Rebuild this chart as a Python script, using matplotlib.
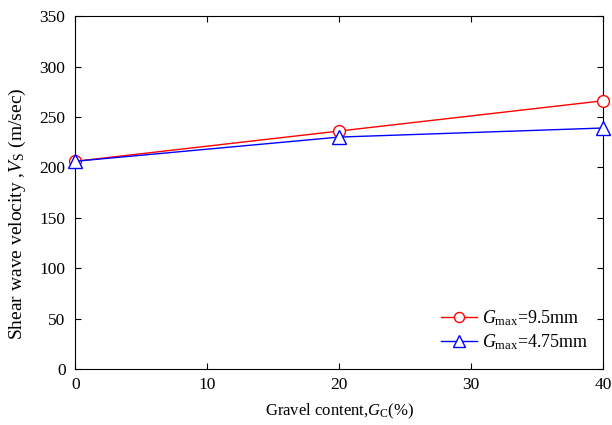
import matplotlib
matplotlib.use('Agg')
import matplotlib.pyplot as plt

# gravel content (%) and shear wave velocity (m/sec)
gravel = [0, 20, 40]
vs_95 = [206, 236, 266]
vs_475 = [206, 230, 239]

plt.rcParams['font.family'] = ['Liberation Serif', 'DejaVu Serif']
plt.rcParams['mathtext.fontset'] = 'custom'
plt.rcParams['mathtext.it'] = 'Liberation Serif:italic'
plt.rcParams['mathtext.rm'] = 'Liberation Serif'
plt.rcParams['font.size'] = 12

fig, ax = plt.subplots(figsize=(6.12, 4.25), dpi=100)
fig.subplots_adjust(left=0.123, right=0.985, top=0.962, bottom=0.132)

ax.plot(gravel, vs_95, color='red', lw=1, marker='o', ms=8.5, mfc='white',
        mec='red', label=r'$G_{\rm max}$=9.5mm', clip_on=False, zorder=3)
ax.plot(gravel, vs_475, color='blue', lw=1, marker='^', ms=9.5, mfc='white',
        mec='blue', label=r'$G_{\rm max}$=4.75mm', clip_on=False, zorder=3)

ax.set_xlim(0, 40)
ax.set_ylim(0, 350)
ax.set_xticks([0, 10, 20, 30, 40])
ax.set_yticks(range(0, 351, 50))
ax.tick_params(direction='in', top=True, right=True, length=4, labelsize=12.5)
ax.tick_params(axis='y', pad=7)
ax.tick_params(axis='x', pad=6)

ax.set_xlabel(r'Gravel content,$G_{\rm C}$(%)', fontsize=12, labelpad=6)
ax.set_ylabel(r'Shear wave velocity ,$V_{\rm S}$ (m/sec)', fontsize=14)
ax.yaxis.set_label_coords(-0.09, 0.44)

ax.legend(loc='lower right', frameon=False, fontsize=13, handlelength=2.0,
          handletextpad=0.25, labelspacing=0.2, markerscale=0.85,
          bbox_to_anchor=(1.003, 0.003))

fig.savefig('out.png', dpi=100)
